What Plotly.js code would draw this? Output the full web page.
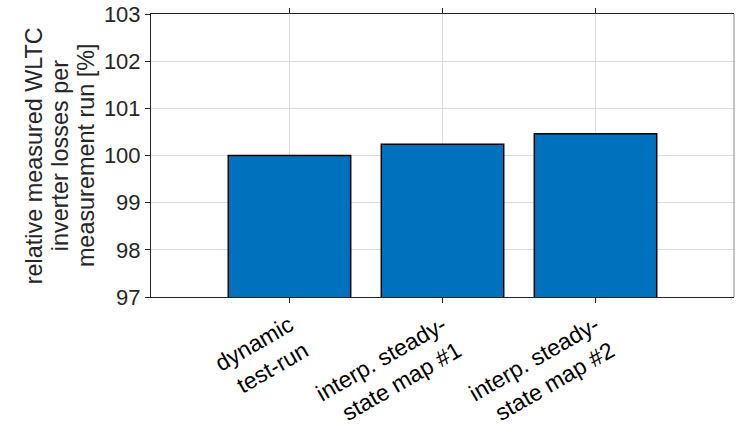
<!DOCTYPE html>
<html>
<head>
<meta charset="utf-8">
<script src="https://cdn.plot.ly/plotly-3.0.1.min.js"></script>
<style>html,body{margin:0;padding:0;background:#fff;}#chart{width:745px;height:432px;}</style>
</head>
<body>
<div id="chart"></div>
<script>
const categories = ["dynamic<br>test-run", "interp. steady-<br>state map #1", "interp. steady-<br>state map #2"];
const lossValues = [100.0, 100.24, 100.46];
const yTickValues = [97, 98, 99, 100, 101, 102, 103];
const yTitleLines = ["relative measured WLTC", "inverter losses per", "measurement run [%]"];

const trace = {
  type: 'bar',
  x: [0, 1, 2],
  y: lossValues,
  width: 0.8,
  marker: {color: '#0072BD', line: {color: '#000000', width: 1.5}},
  hoverinfo: 'none'
};

const titleX = [33, 59, 85];
const annotations = yTitleLines.map((t, i) => ({
  text: t, xref: 'paper', yref: 'paper',
  x: (titleX[i] - 150.5) / 584, y: 0.5,
  xanchor: 'center', yanchor: 'middle',
  textangle: -90, showarrow: false,
  font: {family: '"Liberation Sans", Arial, sans-serif', size: 23.4, color: '#262626'}
}));

const layout = {
  width: 745, height: 432,
  margin: {l: 150.5, r: 10.5, t: 13.5, b: 134.5},
  paper_bgcolor: '#ffffff', plot_bgcolor: '#ffffff',
  font: {family: '"Liberation Sans", Arial, sans-serif', size: 22, color: '#262626'},
  showlegend: false,
  annotations: annotations,
  shapes: [{
    type: 'line', xref: 'paper', yref: 'paper',
    x0: 1, x1: 1, y0: 0, y1: 1,
    line: {color: '#8c8c8c', width: 1}
  }],
  xaxis: {
    range: [-0.905, 2.905],
    tickvals: [0, 1, 2],
    ticktext: categories,
    tickangle: -30,
    ticks: 'outside', ticklen: 5, tickwidth: 1, tickcolor: '#262626',
    showline: true, linecolor: '#262626', linewidth: 1, mirror: 'ticks',
    showgrid: true, gridcolor: '#dcdcdc', gridwidth: 1,
    zeroline: false,
    tickfont: {size: 23, color: '#000000'}
  },
  yaxis: {
    range: [97, 103],
    tickvals: yTickValues,
    ticks: 'outside', ticklen: 5, tickwidth: 1, tickcolor: '#262626',
    showline: true, linecolor: '#262626', linewidth: 1, mirror: false,
    showgrid: true, gridcolor: '#dcdcdc', gridwidth: 1,
    zeroline: false,
    tickfont: {size: 22, color: '#262626'}
  }
};

Plotly.newPlot('chart', [trace], layout, {displayModeBar: false, staticPlot: true});
</script>
</body>
</html>
